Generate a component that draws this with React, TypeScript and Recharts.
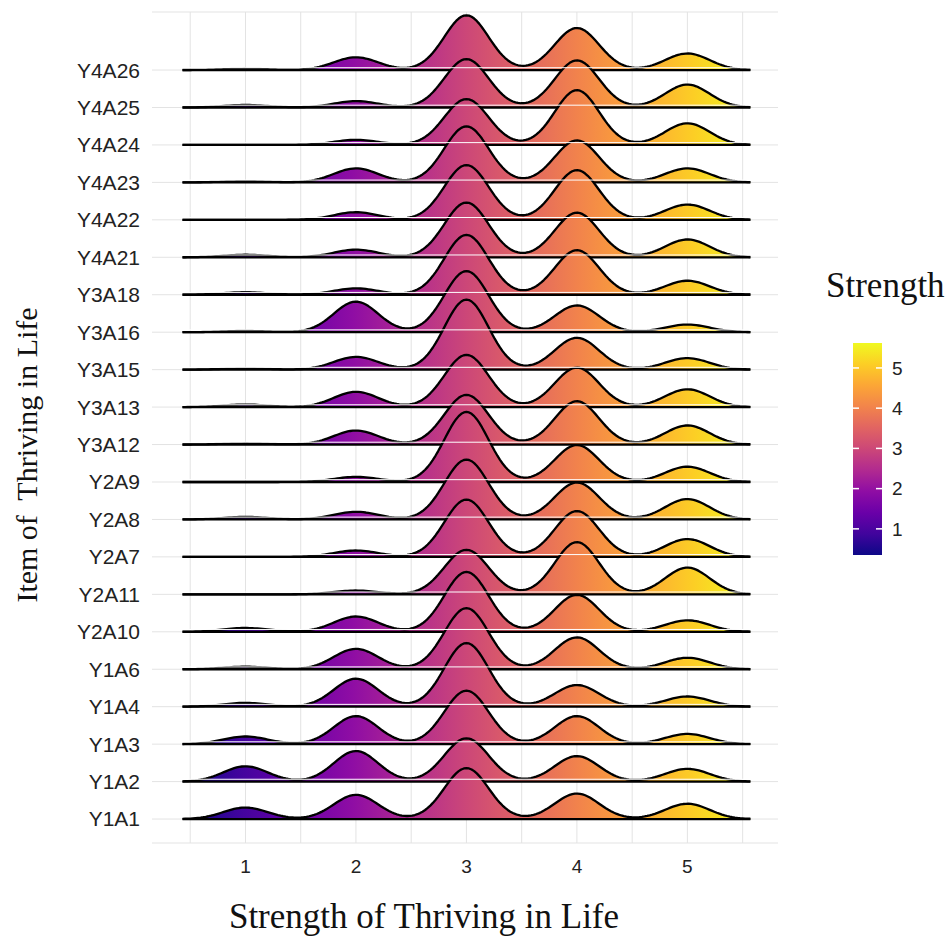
import { ComposedChart, Area, XAxis, YAxis, CartesianGrid, ReferenceLine } from 'recharts';

// items, bottom row first
const ITEMS = [
  'Y1A1', 'Y1A2', 'Y1A3', 'Y1A4', 'Y1A6', 'Y2A10', 'Y2A11', 'Y2A7', 'Y2A8', 'Y2A9',
  'Y3A12', 'Y3A13', 'Y3A15', 'Y3A16', 'Y3A18', 'Y4A21', 'Y4A22', 'Y4A23', 'Y4A24', 'Y4A25', 'Y4A26',
];

// share of answers (%) at each strength level, same order as ITEMS
const SHARE_1 = [9, 12, 6, 3, 2, 3, 0, 0, 2, 0, 1, 2, 1, 1, 2, 2, 0, 1, 0, 2, 1];
const SHARE_2 = [19, 24, 22, 22, 16, 12, 3, 5, 6, 4, 11, 12, 10, 24, 5, 6, 6, 11, 4, 5, 10];
const SHARE_3 = [40, 34, 42, 50, 48, 47, 35, 45, 47, 55, 39, 41, 55, 48, 47, 43, 43, 44, 36, 38, 43];
const SHARE_4 = [20, 20, 22, 17, 25, 29, 41, 36, 29, 29, 34, 31, 25, 21, 35, 35, 39, 33, 43, 37, 33];
const SHARE_5 = [12, 10, 8, 8, 9, 9, 21, 14, 16, 12, 15, 14, 9, 6, 11, 14, 12, 11, 17, 18, 13];

const LEVELS = [1, 2, 3, 4, 5];
const X_TICKS = [1, 2, 3, 4, 5];
const GRID_X = [0.5, 1, 1.5, 2, 2.5, 3, 3.5, 4, 4.5, 5, 5.5];
const LEGEND_TICKS = [1, 2, 3, 4, 5];

const X_MIN = 0.43;
const X_MAX = 5.57;
const BANDWIDTH = 0.2;
const RIDGE_SCALE = 3.4;
const STEPS = 220;

const PLASMA = ['#0d0887', '#41049d', '#6a00a8', '#8f0da4', '#b12a90', '#cc4778', '#e16462', '#f2844b', '#fca636', '#fcce25', '#f0f921'];

const SERIF = '"Liberation Serif", "Times New Roman", serif';
const SANS = '"Liberation Sans", Arial, sans-serif';

const shares = [SHARE_1, SHARE_2, SHARE_3, SHARE_4, SHARE_5];

// kernel density (gaussian) of the answers for each item, sampled on a grid
const chartData = Array.from({ length: STEPS + 1 }, (_, s) => {
  const x = X_MIN + ((X_MAX - X_MIN) * s) / STEPS;
  const row: Record<string, number | number[]> = { x };
  ITEMS.forEach((_, i) => {
    let d = 0;
    LEVELS.forEach((lvl, k) => {
      const z = (x - lvl) / BANDWIDTH;
      d += (shares[k][i] / 100) * Math.exp(-0.5 * z * z);
    });
    row[`r${i}`] = [i, i + RIDGE_SCALE * d];
  });
  return row;
});

const rowIdx = ITEMS.map((_, i) => i);

function LegendBar() {
  const top = 343;
  const bottom = 555;
  const vMin = 0.35;
  const vMax = 5.62;
  const y = (v: number) => bottom - ((v - vMin) / (vMax - vMin)) * (bottom - top);
  const left = 853;
  const w = 29;
  return (
    <g>
      <text x={826} y={297} fontFamily={SERIF} fontSize={35} fill="#111">Strength</text>
      <rect x={left} y={top} width={w} height={bottom - top} fill="url(#plasmaV)" />
      {LEGEND_TICKS.map(v => (
        <g key={v}>
          <line x1={left} x2={left + 6} y1={y(v)} y2={y(v)} stroke="#fff" strokeWidth={1.5} />
          <line x1={left + w - 6} x2={left + w} y1={y(v)} y2={y(v)} stroke="#fff" strokeWidth={1.5} />
          <text x={left + w + 10} y={y(v)} dy="0.36em" fontFamily={SANS} fontSize={19} fill="#222">{v}</text>
        </g>
      ))}
    </g>
  );
}

export default function App() {
  return (
    <div style={{ position: 'absolute', left: 0, top: 0, width: 947, height: 937, background: '#fff' }}>
      <svg width={0} height={0} style={{ position: 'absolute' }}>
        <defs>
          <linearGradient id="plasmaH" x1="0" y1="0" x2="1" y2="0">
            {PLASMA.map((c, i) => (
              <stop key={i} offset={i / (PLASMA.length - 1)} stopColor={c} />
            ))}
          </linearGradient>
          <linearGradient id="plasmaV" x1="0" y1="1" x2="0" y2="0">
            {PLASMA.map((c, i) => (
              <stop key={i} offset={i / (PLASMA.length - 1)} stopColor={c} />
            ))}
          </linearGradient>
        </defs>
      </svg>
      <ComposedChart width={947} height={937} data={chartData} margin={{ top: 12, right: 169, bottom: 0, left: 0 }}>
        <CartesianGrid stroke="#e3e3e3" strokeWidth={1} verticalValues={GRID_X} />
        <XAxis
          dataKey="x"
          type="number"
          domain={[0.154, 5.82]}
          ticks={X_TICKS}
          allowDataOverflow
          axisLine={false}
          tickLine={false}
          tickSize={0}
          tickMargin={17}
          height={94}
          tick={{ fontSize: 19, fill: '#222', fontFamily: SANS }}
        />
        <YAxis
          type="number"
          domain={[-0.64, 21.55]}
          ticks={rowIdx}
          interval={0}
          allowDataOverflow
          axisLine={false}
          tickLine={false}
          tickSize={0}
          tickMargin={12}
          width={152}
          tickFormatter={(v: number) => ITEMS[v] ?? ''}
          tick={{ fontSize: 21, fill: '#222', fontFamily: SANS }}
        />
        {[...rowIdx].reverse().map(i => (
          <Area
            key={ITEMS[i]}
            type="linear"
            dataKey={`r${i}`}
            stroke="#000"
            strokeWidth={2.3}
            strokeLinejoin="round"
            fill="url(#plasmaH)"
            fillOpacity={1}
            dot={false}
            activeDot={false}
            isAnimationActive={false}
          />
        ))}
        {rowIdx.slice(1).map(i => (
          <ReferenceLine key={`sep-${i}`} y={i + 0.062} stroke="#fff" strokeWidth={1} ifOverflow="hidden" />
        ))}
      </ComposedChart>
      <svg width={947} height={937} style={{ position: 'absolute', left: 0, top: 0, pointerEvents: 'none' }}>
        <text x={424} y={928} textAnchor="middle" fontFamily={SERIF} fontSize={35} fill="#111">
          Strength of Thriving in Life
        </text>
        <text
          transform="translate(37, 455) rotate(-90)"
          textAnchor="middle"
          fontFamily={SERIF}
          fontSize={30}
          fill="#111"
          style={{ whiteSpace: 'pre' }}
        >
          {'Item of  Thriving in Life'}
        </text>
        <LegendBar />
      </svg>
    </div>
  );
}
